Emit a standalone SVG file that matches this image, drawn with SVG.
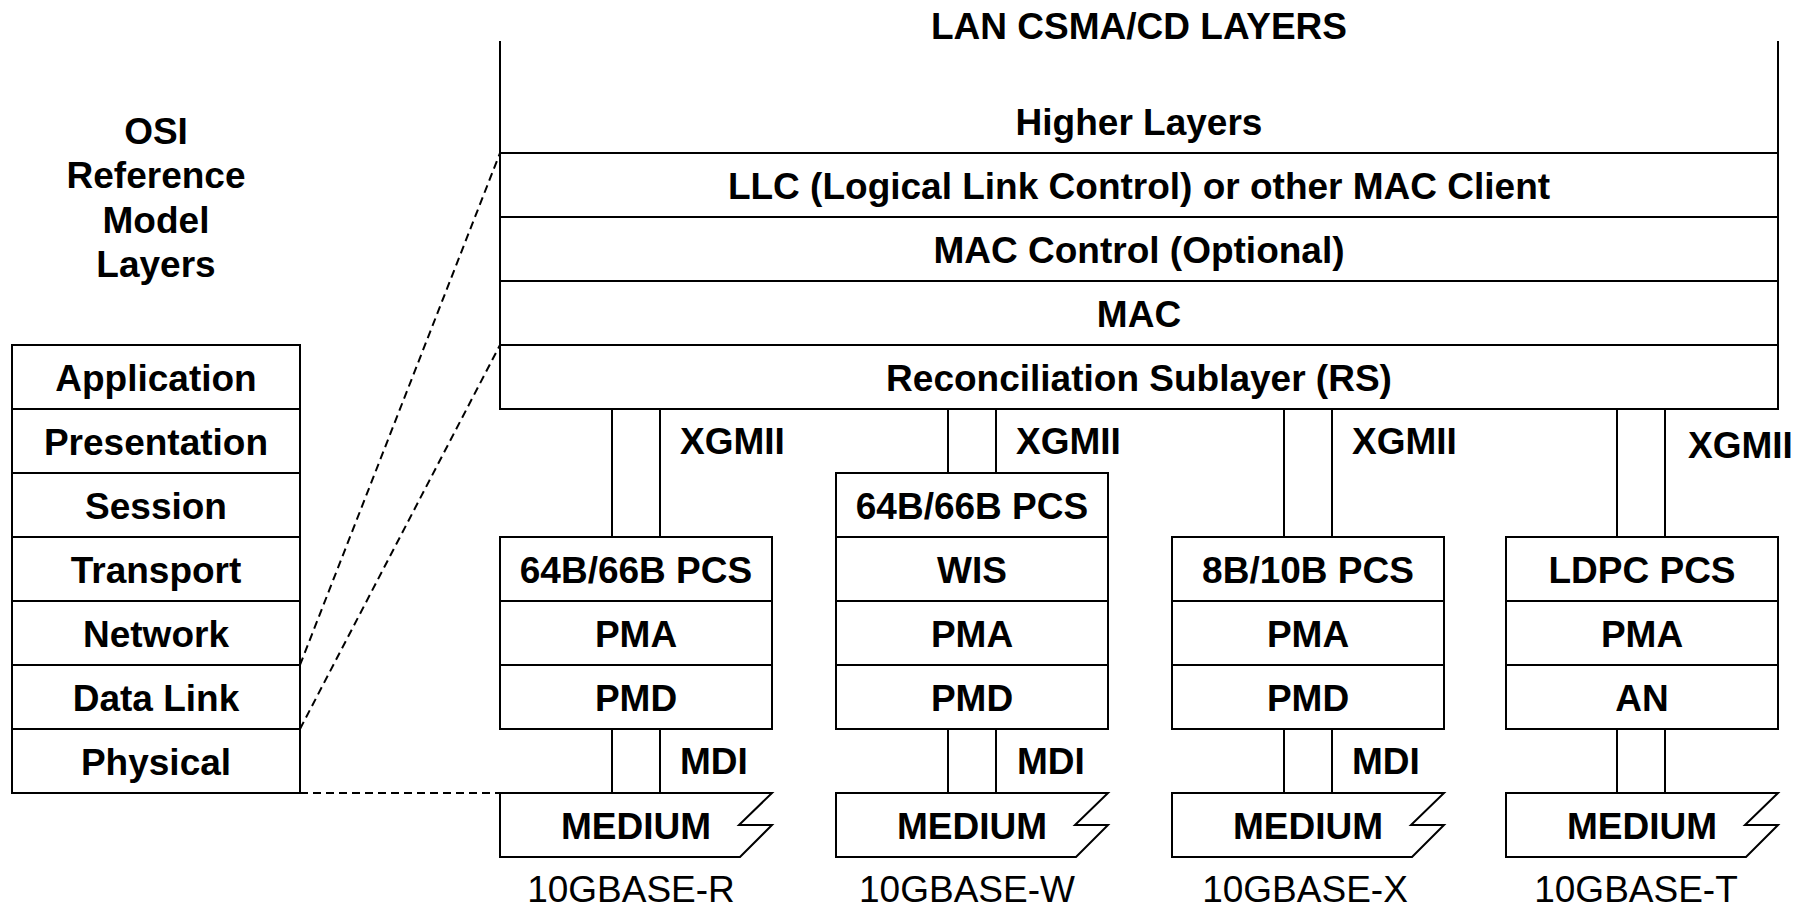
<svg xmlns="http://www.w3.org/2000/svg" width="1810" height="907" viewBox="0 0 1810 907">
<style>
.b{font-family:"Liberation Sans",Arial,sans-serif;font-weight:bold;font-size:37px;fill:#000}
.r{font-family:"Liberation Sans",Arial,sans-serif;font-size:37px;fill:#000}
.c{text-anchor:middle}
.box{fill:#fff;stroke:#000;stroke-width:2}
.ln{fill:none;stroke:#000;stroke-width:2}
.dash{fill:none;stroke:#000;stroke-width:2;stroke-dasharray:8 5}
</style>
<rect width="1810" height="907" fill="#fff"/>

<g id="osi-title">
<text class="b c" x="156" y="143.5">OSI</text>
<text class="b c" x="156" y="188">Reference</text>
<text class="b c" x="156" y="232.5">Model</text>
<text class="b c" x="156" y="277">Layers</text>
</g>

<g id="osi-stack">
<rect class="box" x="12" y="345" width="288" height="64"/>
<rect class="box" x="12" y="409" width="288" height="64"/>
<rect class="box" x="12" y="473" width="288" height="64"/>
<rect class="box" x="12" y="537" width="288" height="64"/>
<rect class="box" x="12" y="601" width="288" height="64"/>
<rect class="box" x="12" y="665" width="288" height="64"/>
<rect class="box" x="12" y="729" width="288" height="64"/>
<text class="b c" x="156" y="391">Application</text>
<text class="b c" x="156" y="455">Presentation</text>
<text class="b c" x="156" y="519">Session</text>
<text class="b c" x="156" y="583">Transport</text>
<text class="b c" x="156" y="647">Network</text>
<text class="b c" x="156" y="711">Data Link</text>
<text class="b c" x="156" y="775">Physical</text>
</g>

<g id="lan-title">
<text class="b c" x="1139" y="39">LAN CSMA/CD LAYERS</text>
</g>

<g id="lan-stack">
<path class="ln" d="M500,41 V153 M1778,41 V153"/>
<rect class="box" x="500" y="153" width="1278" height="64"/>
<rect class="box" x="500" y="217" width="1278" height="64"/>
<rect class="box" x="500" y="281" width="1278" height="64"/>
<rect class="box" x="500" y="345" width="1278" height="64"/>
<text class="b c" x="1139" y="135">Higher Layers</text>
<text class="b c" x="1139" y="199">LLC (Logical Link Control) or other MAC Client</text>
<text class="b c" x="1139" y="263">MAC Control (Optional)</text>
<text class="b c" x="1139" y="327">MAC</text>
<text class="b c" x="1139" y="391">Reconciliation Sublayer (RS)</text>
</g>

<g id="phy-r">
<rect class="box" x="500" y="537" width="272" height="64"/>
<rect class="box" x="500" y="601" width="272" height="64"/>
<rect class="box" x="500" y="665" width="272" height="64"/>
<text class="b c" x="636" y="583">64B/66B PCS</text>
<text class="b c" x="636" y="647">PMA</text>
<text class="b c" x="636" y="711">PMD</text>
<path class="box" d="M500,793 H772 L739,825 H772 L740,857 H500 Z"/>
<text class="b c" x="636" y="838.5">MEDIUM</text>
<text class="r c" x="631" y="902">10GBASE-R</text>
</g>

<g id="phy-w">
<rect class="box" x="836" y="473" width="272" height="64"/>
<rect class="box" x="836" y="537" width="272" height="64"/>
<rect class="box" x="836" y="601" width="272" height="64"/>
<rect class="box" x="836" y="665" width="272" height="64"/>
<text class="b c" x="972" y="519">64B/66B PCS</text>
<text class="b c" x="972" y="583">WIS</text>
<text class="b c" x="972" y="647">PMA</text>
<text class="b c" x="972" y="711">PMD</text>
<path class="box" d="M836,793 H1108 L1075,825 H1108 L1076,857 H836 Z"/>
<text class="b c" x="972" y="838.5">MEDIUM</text>
<text class="r c" x="967" y="902">10GBASE-W</text>
</g>

<g id="phy-x">
<rect class="box" x="1172" y="537" width="272" height="64"/>
<rect class="box" x="1172" y="601" width="272" height="64"/>
<rect class="box" x="1172" y="665" width="272" height="64"/>
<text class="b c" x="1308" y="583">8B/10B PCS</text>
<text class="b c" x="1308" y="647">PMA</text>
<text class="b c" x="1308" y="711">PMD</text>
<path class="box" d="M1172,793 H1444 L1411,825 H1444 L1412,857 H1172 Z"/>
<text class="b c" x="1308" y="838.5">MEDIUM</text>
<text class="r c" x="1305" y="902">10GBASE-X</text>
</g>

<g id="phy-t">
<rect class="box" x="1506" y="537" width="272" height="64"/>
<rect class="box" x="1506" y="601" width="272" height="64"/>
<rect class="box" x="1506" y="665" width="272" height="64"/>
<text class="b c" x="1642" y="583">LDPC PCS</text>
<text class="b c" x="1642" y="647">PMA</text>
<text class="b c" x="1642" y="711">AN</text>
<path class="box" d="M1506,793 H1778 L1745,825 H1778 L1746,857 H1506 Z"/>
<text class="b c" x="1642" y="838.5">MEDIUM</text>
<text class="r c" x="1636" y="902">10GBASE-T</text>
</g>

<g id="connectors">
<path class="dash" d="M300,665 L500,153"/>
<path class="dash" d="M300,729 L500,345"/>
<path class="dash" d="M300,793 H500"/>
<path class="ln" d="M612,409 V537 M660,409 V537"/>
<path class="ln" d="M948,409 V473 M996,409 V473"/>
<path class="ln" d="M1284,409 V537 M1332,409 V537"/>
<path class="ln" d="M1617,409 V537 M1665,409 V537"/>
<path class="ln" d="M612,729 V793 M660,729 V793"/>
<path class="ln" d="M948,729 V793 M996,729 V793"/>
<path class="ln" d="M1284,729 V793 M1332,729 V793"/>
<path class="ln" d="M1617,729 V793 M1665,729 V793"/>
<text class="b" x="680" y="454">XGMII</text>
<text class="b" x="1016" y="454">XGMII</text>
<text class="b" x="1352" y="454">XGMII</text>
<text class="b" x="1688" y="457.5">XGMII</text>
<text class="b" x="680" y="774">MDI</text>
<text class="b" x="1017" y="774">MDI</text>
<text class="b" x="1352" y="774">MDI</text>
</g>
</svg>
